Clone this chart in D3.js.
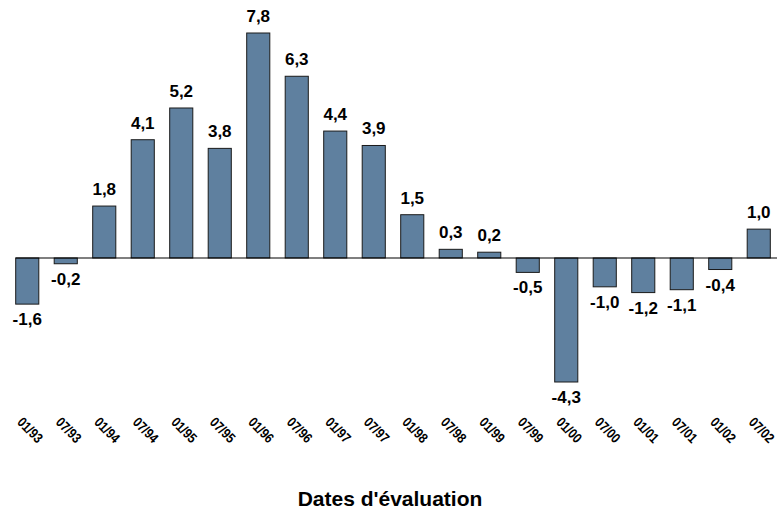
<!DOCTYPE html>
<html>
<head>
<meta charset="utf-8">
<script src="https://cdn.jsdelivr.net/npm/d3@7"></script>
<style>
  body { margin: 0; background: #ffffff; }
  svg { display: block; font-family: 'Liberation Sans', Arial, sans-serif; }
</style>
</head>
<body>
<div id="chart"></div>
<script>
// dates d'évaluation (categories)
const dates = ['01/93', '07/93', '01/94', '07/94', '01/95', '07/95', '01/96', '07/96', '01/97', '07/97',
               '01/98', '07/98', '01/99', '07/99', '01/00', '07/00', '01/01', '07/01', '01/02', '07/02']
// values
const values = [-1.6, -0.2, 1.8, 4.1, 5.2, 3.8, 7.8, 6.3, 4.4, 3.9,
                1.5, 0.3, 0.2, -0.5, -4.3, -1.0, -1.2, -1.1, -0.4, 1.0]

const data = dates.map((d, i) => ({ date: d, value: values[i] }))

const width = 777, height = 512

const svg = d3.select('#chart')
  .append('svg')
    .attr('width', width)
    .attr('height', height)

// x band scale
const x = d3.scaleBand()
  .domain(dates)
  .range([8, 778])
  .paddingInner(0.4)
  .paddingOuter(0.2)

// y linear scale (baseline at 258)
const y = d3.scaleLinear()
  .domain([-4.3, 7.8])
  .range([382, 33])

// french decimal comma, plain hyphen for minus
const fmt = v => (v < 0 ? '-' : '') + Math.abs(v).toFixed(1).replace('.', ',')

// bars
svg.append('g')
  .selectAll('rect')
  .data(data)
  .enter()
  .append('rect')
    .attr('x', d => x(d.date))
    .attr('y', d => y(Math.max(0, d.value)))
    .attr('width', x.bandwidth())
    .attr('height', d => Math.abs(y(d.value) - y(0)))
    .style('fill', '#5f809f')
    .style('stroke', '#1a1a1a')
    .style('stroke-width', 1)

// zero line
svg.append('line')
  .attr('x1', x(dates[0]))
  .attr('x2', width)
  .attr('y1', y(0))
  .attr('y2', y(0))
  .style('stroke', '#000')
  .style('stroke-width', 1.2)

// value labels
svg.append('g')
  .selectAll('text')
  .data(data)
  .enter()
  .append('text')
    .attr('x', d => x(d.date) + x.bandwidth() / 2)
    .attr('y', d => d.value >= 0 ? y(d.value) - 11 : y(d.value) + 21)
    .attr('text-anchor', 'middle')
    .style('font-size', '17px')
    .style('font-weight', 'bold')
    .style('fill', '#000')
    .text(d => fmt(d.value))

// rotated date labels (narrow look)
svg.append('g')
  .selectAll('text')
  .data(dates)
  .enter()
  .append('text')
    .attr('transform', d => 'translate(' + (x(d) + x.bandwidth() / 2 + 3) + ',430) rotate(45) scale(0.84,1)')
    .attr('text-anchor', 'middle')
    .attr('dy', '0.35em')
    .style('font-size', '14px')
    .style('font-weight', 'bold')
    .style('fill', '#000')
    .text(d => d)

// axis title
svg.append('text')
  .attr('x', 390)
  .attr('y', 506)
  .attr('text-anchor', 'middle')
  .style('font-size', '21px')
  .style('font-weight', 'bold')
  .style('fill', '#000')
  .text("Dates d'évaluation")
</script>
</body>
</html>
